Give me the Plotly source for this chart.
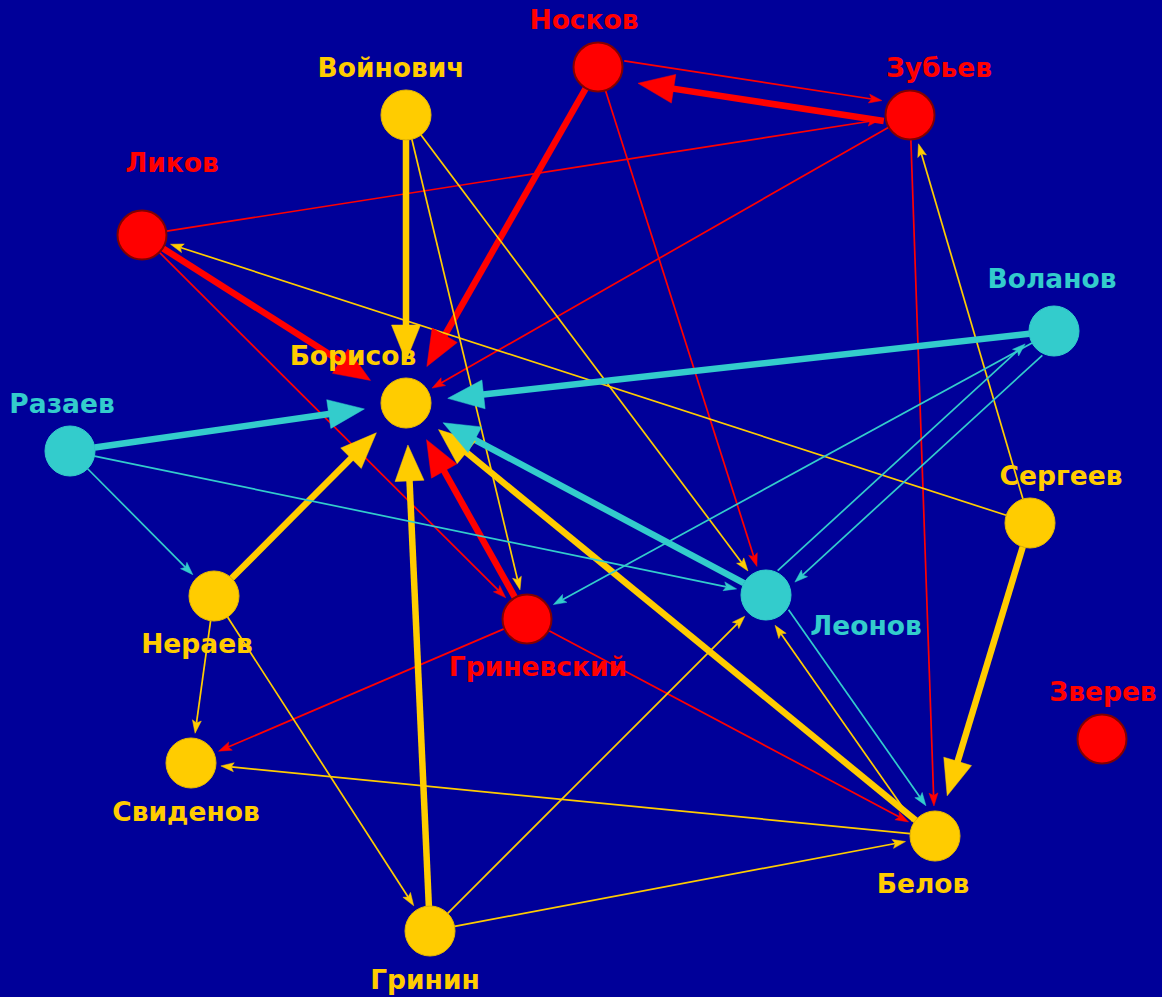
import numpy as np
import plotly.graph_objects as go

# ---- data ----
names = ["Носков", "Зубьев", "Войнович", "Ликов", "Воланов", "Борисов", "Разаев",
         "Сергеев", "Нераев", "Леонов", "Гриневский", "Зверев", "Свиденов", "Белов", "Гринин"]
groups = ["red", "red", "gold", "red", "cyan", "gold", "cyan",
          "gold", "gold", "cyan", "red", "red", "gold", "gold", "gold"]
node_x = [598, 910, 406, 142, 1054, 406, 70, 1030, 214, 766, 527, 1102, 191, 935, 430]
node_y = [67, 115, 115, 235, 331, 403, 451, 523, 596, 595, 619, 739, 763, 836, 931]
label_x = [584, 939, 391, 172, 1052, 353, 62, 1061, 197, 866, 538, 1103, 186, 923, 425]
label_y = [22, 70, 70, 165, 281, 358, 406, 478, 646, 628, 669, 694, 814, 886, 982]

edge_src = ["Носков", "Зубьев", "Носков", "Носков", "Зубьев", "Зубьев", "Ликов", "Ликов", "Ликов",
            "Войнович", "Войнович", "Войнович", "Сергеев", "Сергеев", "Сергеев",
            "Воланов", "Воланов", "Воланов", "Леонов", "Разаев", "Разаев", "Разаев",
            "Леонов", "Леонов", "Белов", "Гриневский", "Гриневский", "Гриневский",
            "Нераев", "Нераев", "Нераев", "Гринин", "Гринин", "Гринин", "Белов", "Белов"]
edge_dst = ["Борисов", "Носков", "Зубьев", "Леонов", "Борисов", "Белов", "Зубьев", "Борисов", "Гриневский",
            "Борисов", "Гриневский", "Леонов", "Ликов", "Зубьев", "Белов",
            "Борисов", "Гриневский", "Леонов", "Воланов", "Борисов", "Нераев", "Леонов",
            "Борисов", "Белов", "Леонов", "Борисов", "Свиденов", "Белов",
            "Борисов", "Свиденов", "Гринин", "Борисов", "Леонов", "Белов", "Свиденов", "Борисов"]
edge_strong = [1, 1, 0, 0, 0, 0, 0, 1, 0,
               1, 0, 0, 0, 0, 1,
               1, 0, 0, 0, 1, 0, 0,
               1, 0, 0, 1, 0, 0,
               1, 0, 0, 1, 0, 0, 0, 1]

# ---- style ----
BG = "#000099"
COLORS = {"red": "#FF0000", "gold": "#FFCC00", "cyan": "#33CCCC"}
OUTLINE = {"red": "#800000", "gold": "#E6B800", "cyan": "#33CCCC"}
FONT = "DejaVu Sans"

idx = {n: i for i, n in enumerate(names)}
pairs = set(zip(edge_src, edge_dst))

lines = {}
heads = {}
for s, d, strong in zip(edge_src, edge_dst, edge_strong):
    i, j = idx[s], idx[d]
    p0 = np.array([node_x[i], node_y[i]], float)
    p1 = np.array([node_x[j], node_y[j]], float)
    u = (p1 - p0) / np.linalg.norm(p1 - p0)
    n = np.array([u[1], -u[0]])
    off = 10.0 if (d, s) in pairs else 0.0
    start = p0 + u * 25 + n * off
    tip = p1 - u * (42 if strong else 30) + n * off
    if strong:
        L, W, notch = 36.0, 29.0, 1.0
    else:
        L, W, notch = 13.0, 9.0, 0.8
    end = tip - u * L * 0.8
    key = (groups[i], strong)
    lx, ly = lines.setdefault(key, ([], []))
    lx += [start[0], end[0], None]
    ly += [start[1], end[1], None]
    b1 = tip - u * L + n * W / 2
    b2 = tip - u * L - n * W / 2
    nb = tip - u * L * notch
    hx, hy = heads.setdefault(groups[i], ([], []))
    hx += [tip[0], b1[0], nb[0], b2[0], tip[0], None]
    hy += [tip[1], b1[1], nb[1], b2[1], tip[1], None]

fig = go.Figure()
for (g, strong), (lx, ly) in lines.items():
    fig.add_trace(go.Scatter(x=lx, y=ly, mode="lines", hoverinfo="skip",
                             line=dict(color=COLORS[g], width=6.5 if strong else 1.7)))
for g, (hx, hy) in heads.items():
    fig.add_trace(go.Scatter(x=hx, y=hy, mode="lines", fill="toself", fillcolor=COLORS[g],
                             hoverinfo="skip", line=dict(color=COLORS[g], width=0.5)))

for g in ["gold", "cyan", "red"]:
    sel = [k for k in range(len(names)) if groups[k] == g]
    fig.add_trace(go.Scatter(
        x=[node_x[k] for k in sel], y=[node_y[k] for k in sel], mode="markers",
        hoverinfo="skip",
        marker=dict(size=49 if g == "red" else 50, color=COLORS[g],
                    line=dict(color=OUTLINE[g], width=2 if g == "red" else 1))))
    fig.add_trace(go.Scatter(
        x=[label_x[k] for k in sel], y=[label_y[k] for k in sel], mode="text",
        text=[names[k] for k in sel], hoverinfo="skip",
        textfont=dict(family=FONT, size=26.5, color=COLORS[g], weight="bold")))

fig.update_layout(
    width=1162, height=997, margin=dict(l=0, r=0, t=0, b=0),
    paper_bgcolor=BG, plot_bgcolor=BG, showlegend=False, hovermode=False,
    xaxis=dict(range=[0, 1162], visible=False, fixedrange=True),
    yaxis=dict(range=[997, 0], visible=False, fixedrange=True),
)
fig.write_html("out.html", config={"displayModeBar": False},
               post_script="document.body.style.margin='0';document.body.style.background='#000099';document.body.style.overflow='hidden';")
